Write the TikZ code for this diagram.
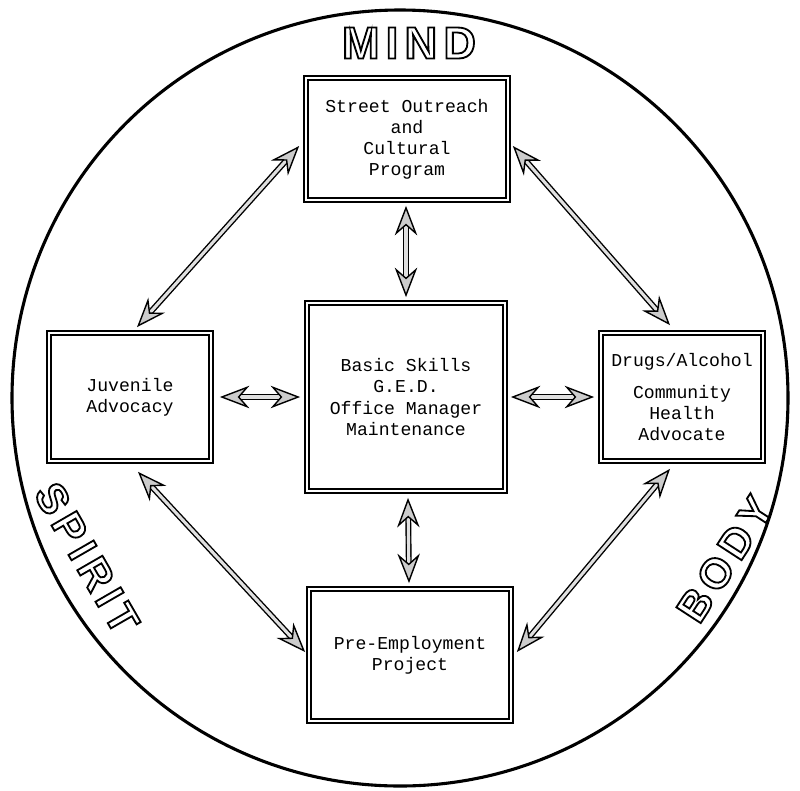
\documentclass[tikz,border=0pt]{standalone}
\usepackage{fontspec}
\setmainfont{Liberation Mono}
\newfontfamily\ringfont[LetterSpace=14]{Liberation Sans}
\usetikzlibrary{calc,arrows.meta}
\tikzset{box/.style={draw,double,double distance=1.4pt,line width=1.2pt,align=center,inner sep=0,font=\fontsize{12.9}{15}\selectfont}}
\tikzset{link/.style={line width=1pt,double=black!12,double distance=2.2pt,{Stealth[open,fill=black!20,length=21pt,width=16pt,inset=7pt]}-{Stealth[open,fill=black!20,length=21pt,width=16pt,inset=7pt]}}}
\tikzset{ring label/.style={inner sep=0,font=\ringfont\bfseries\fontsize{30}{30}\selectfont}}
\newcommand\hollow[1]{\special{pdf:literal direct 1 Tr 1.3 w}#1\special{pdf:literal direct 0 Tr}}

\begin{document}
\begin{tikzpicture}[x=0.025cm,y=-0.025cm]
  \useasboundingbox (0,0) rectangle (800,790);

  %外の円
  \draw[line width=2.2pt] (400,398) circle [radius=388];
  \node[ring label,font=\ringfont\bfseries\fontsize{32}{32}\selectfont] (mind) at (409,43) {\hollow{MIND}};
  \node[ring label,rotate=-60] (spirit) at (87,558) {\hollow{SPIRIT}};
  \node[ring label,rotate=57] (body) at (725,559) {\hollow{BODY}};

  %箱
  \node[box,minimum width=5.05cm,minimum height=3.05cm] (S) at (407,139) {Street Outreach\\and\\Cultural\\Program};
  \node[box,minimum width=4.95cm,minimum height=4.7cm] (B) at (406,397) {Basic Skills\\G.E.D.\\Office Manager\\Maintenance};
  \node[box,minimum width=4.05cm,minimum height=3.2cm] (J) at (130,397) {Juvenile\\Advocacy};
  \node[box,minimum width=4.05cm,minimum height=3.2cm] (D) at (682,397) {Drugs/Alcohol\\[8pt]Community\\Health\\Advocate};
  \node[box,minimum width=5.05cm,minimum height=3.3cm] (P) at (410,655) {Pre-Employment\\Project};

  %矢印
  \draw[link] ($(S.west)+(-6,7)$) -- ($(J.north)+(7,-5)$);
  \draw[link] ($(S.east)+(4,7)$) -- ($(D.north)+(-12,-7)$);
  \draw[link] ($(S.south)+(-1,5)$) -- ($(B.north)+(0,-5)$);
  \draw[link] ($(J.east)+(8,0)$) -- ($(B.west)+(-6,0)$);
  \draw[link] ($(B.east)+(5,0)$) -- ($(D.west)+(-6,0)$);
  \draw[link] ($(B.south)+(2,6)$) -- ($(P.north)+(-1,-5)$);
  \draw[link] ($(J.south)+(8,10)$) -- ($(P.west)+(-3,-3)$);
  \draw[link] ($(D.south)+(-12,7)$) -- ($(P.east)+(5,-3)$);

\end{tikzpicture}
\end{document}
